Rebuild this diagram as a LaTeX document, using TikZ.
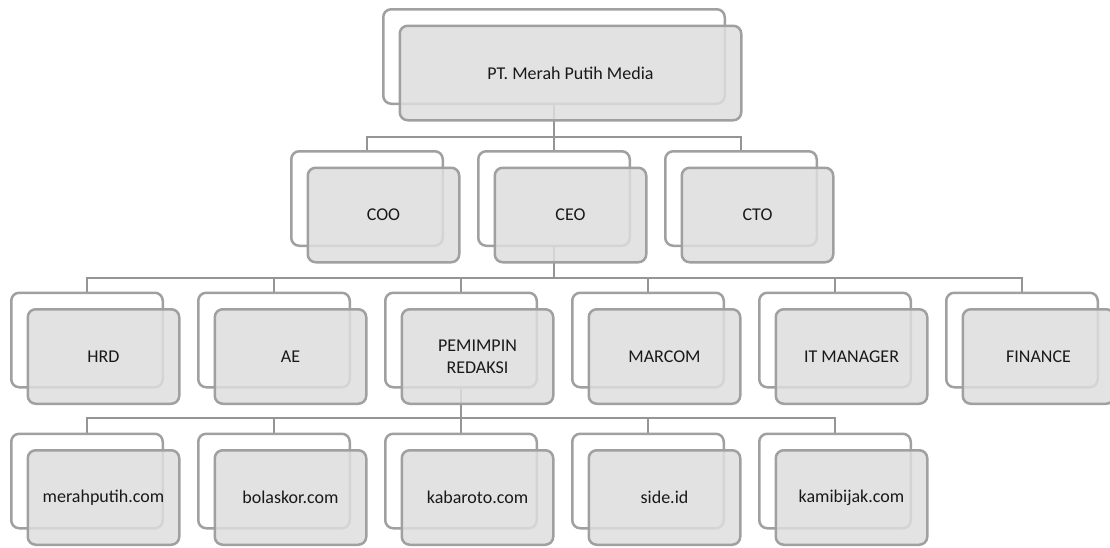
\documentclass[tikz,border=0pt]{standalone}
\usepackage{fontspec}
\setmainfont{Carlito}
\pgfdeclarelayer{bg}
\pgfsetlayers{bg,main}
\definecolor{boxline}{HTML}{A0A0A0}
\definecolor{conline}{HTML}{959595}
\definecolor{boxfill}{HTML}{DEDEDE}
\tikzset{
  backbox/.style={draw=boxline, line width=2.5pt, fill=white, rounded corners=8pt,
    minimum width=151.5pt, minimum height=94.5pt, inner sep=0pt},
  frontbox/.style={draw=boxline, line width=2.5pt, fill=boxfill, fill opacity=0.85, text opacity=1,
    rounded corners=8pt, minimum width=151.5pt, minimum height=94.5pt, inner sep=0pt,
    align=center, font=\fontsize{18}{22}\selectfont, text=black!90},
  conn/.style={draw=conline, line width=2.5pt}
}
\newcommand{\orgbox}[5]{%
  \node[backbox, #5] (#1b) at (#2,#3) {};
  \node[frontbox, #5] (#1) at (#2+16.5,#3+16.5) {#4};
}
\begin{document}
\begin{tikzpicture}[x=1pt,y=-1pt]
\useasboundingbox (0,0) rectangle (1110,547);
% level 1
\orgbox{pt}{554}{56.5}{PT. Merah Putih Media}{minimum width=341.5pt}
% level 2
\orgbox{coo}{367}{198.5}{COO}{}
\orgbox{ceo}{554}{198.5}{CEO}{}
\orgbox{cto}{741}{198.5}{CTO}{}
% level 3
\orgbox{hrd}{87}{340}{HRD}{}
\orgbox{ae}{274}{340}{AE}{}
\orgbox{pr}{461}{340}{PEMIMPIN\\REDAKSI}{}
\orgbox{marcom}{648}{340}{MARCOM}{}
\orgbox{itm}{835}{340}{IT MANAGER}{}
\orgbox{fin}{1022}{340}{FINANCE}{}
% level 4
\orgbox{mp}{87}{481}{merahputih.com}{}
\orgbox{bs}{274}{481}{bolaskor.com}{}
\orgbox{ko}{461}{481}{kabaroto.com}{}
\orgbox{side}{648}{481}{side.id}{}
\orgbox{kb}{835}{481}{kamibijak.com}{}
% connectors
\coordinate (busA) at (0,137);
\coordinate (busB) at (0,278);
\coordinate (busC) at (0,418);
\begin{pgfonlayer}{bg}
\foreach \c in {coo,ceo,cto}
  \draw[conn] (ptb.south) -- (ptb.south |- busA) -| (\c b.north);
\foreach \c in {hrd,ae,pr,marcom,itm,fin}
  \draw[conn] (ceob.south) -- (ceob.south |- busB) -| (\c b.north);
\foreach \c in {mp,bs,ko,side,kb}
  \draw[conn] (prb.south) -- (prb.south |- busC) -| (\c b.north);
\end{pgfonlayer}
\end{tikzpicture}
\end{document}
